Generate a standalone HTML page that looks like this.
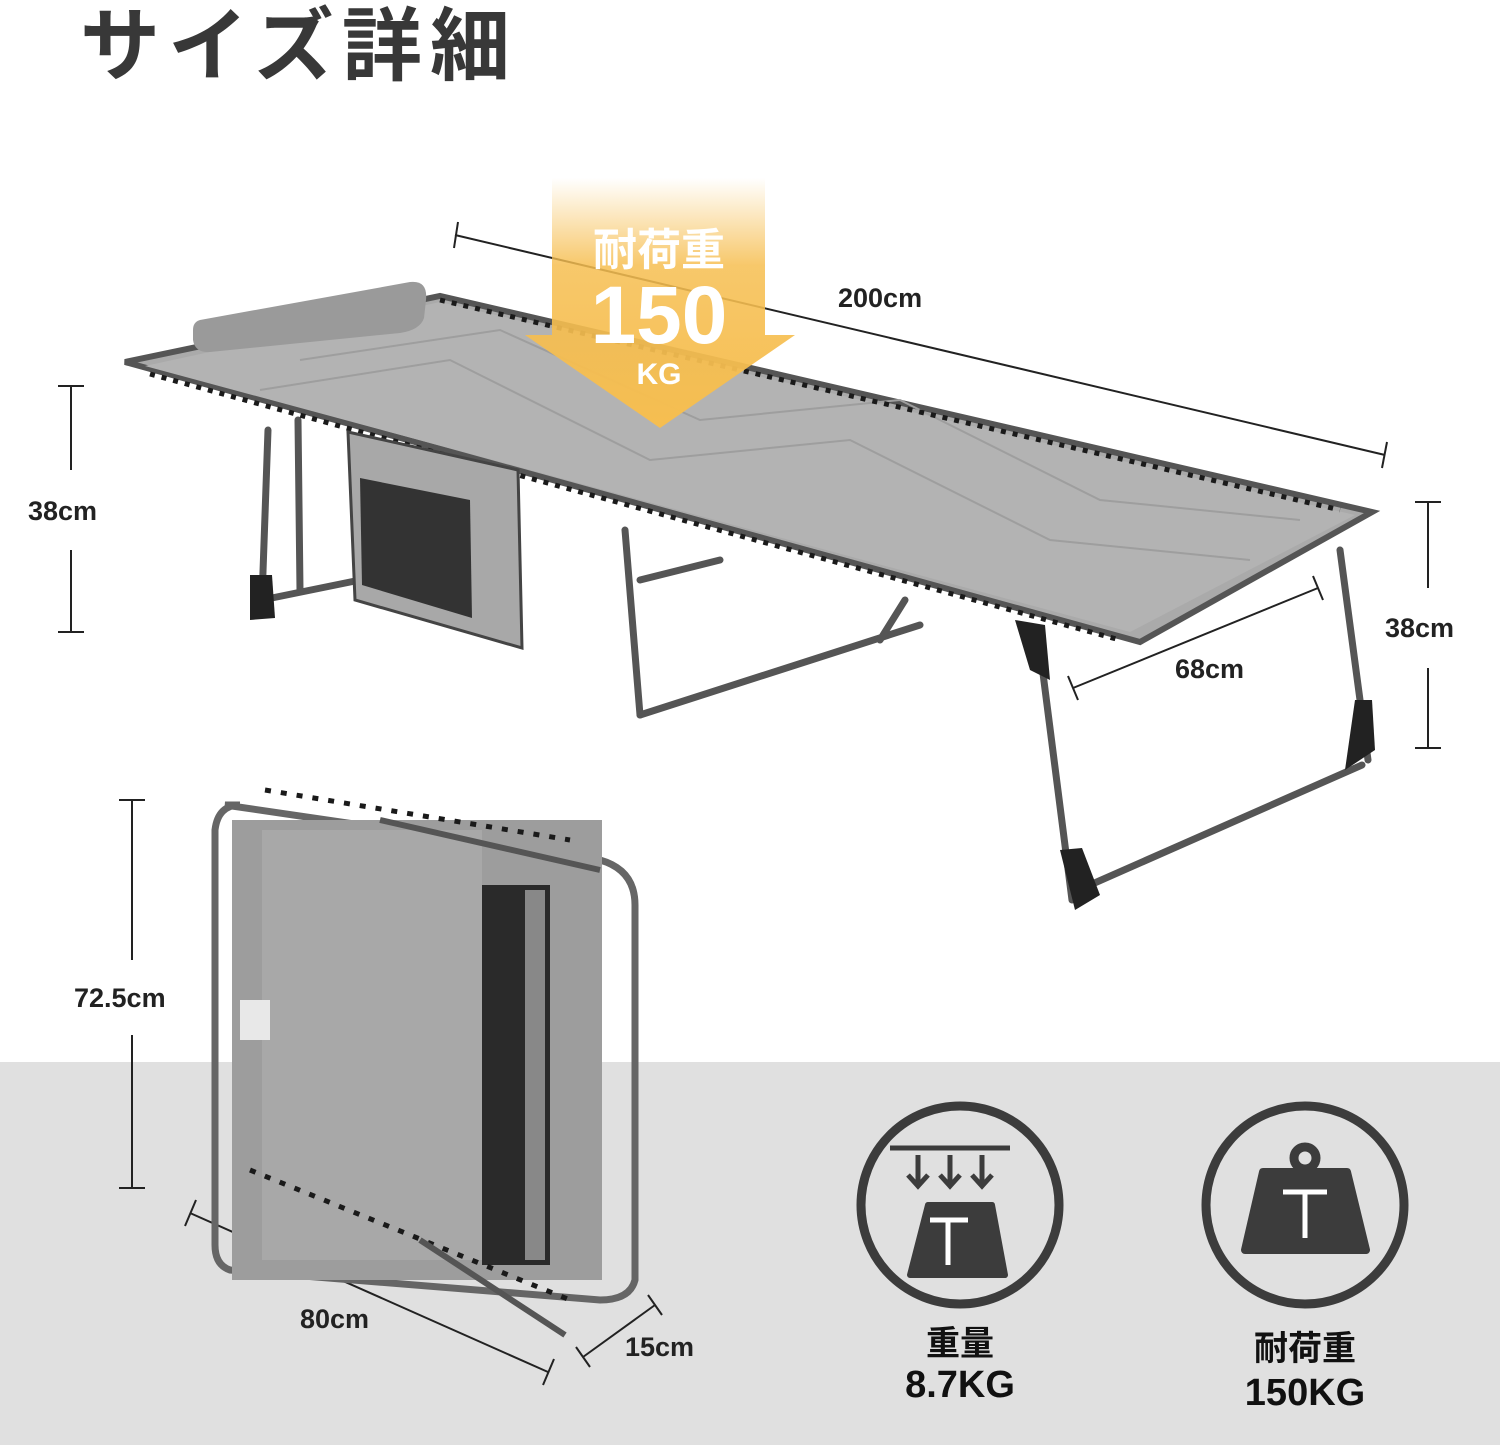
<!DOCTYPE html>
<html><head><meta charset="utf-8"><style>
html,body{margin:0;padding:0;background:#fff}
svg{display:block}
text{font-family:"Liberation Sans","Noto Sans CJK JP",sans-serif;font-weight:bold}
</style></head><body>
<svg width="1500" height="1445" viewBox="0 0 1500 1445" xmlns="http://www.w3.org/2000/svg">
<defs>
<linearGradient id="yg" x1="0" y1="0" x2="0" y2="1">
<stop offset="0" stop-color="#f6be50" stop-opacity="0"/>
<stop offset="0.35" stop-color="#f6be50" stop-opacity="0.85"/>
<stop offset="1" stop-color="#f6be50"/>
</linearGradient>
</defs>
<rect x="0" y="1062" width="1500" height="383" fill="#e0e0e0"/>
<text x="80" y="74" font-size="80" fill="#383838" textLength="430" lengthAdjust="spacing">サイズ詳細</text>

<!-- dimension lines -->
<g stroke="#222" stroke-width="2" fill="none">
<line x1="455" y1="235" x2="1385" y2="455"/>
<line x1="458" y1="222" x2="454" y2="248"/><line x1="1387" y1="442" x2="1382" y2="468"/>
<line x1="71" y1="386" x2="71" y2="470"/><line x1="71" y1="550" x2="71" y2="632"/>
<line x1="58" y1="386" x2="84" y2="386"/><line x1="58" y1="632" x2="84" y2="632"/>
<line x1="1428" y1="502" x2="1428" y2="588"/><line x1="1428" y1="668" x2="1428" y2="748"/>
<line x1="1415" y1="502" x2="1441" y2="502"/><line x1="1415" y1="748" x2="1441" y2="748"/>
<line x1="1073" y1="688" x2="1318" y2="588"/>
<line x1="1068" y1="676" x2="1078" y2="700"/><line x1="1313" y1="576" x2="1323" y2="600"/>
<line x1="132" y1="800" x2="132" y2="960"/><line x1="132" y1="1035" x2="132" y2="1188"/>
<line x1="119" y1="800" x2="145" y2="800"/><line x1="119" y1="1188" x2="145" y2="1188"/>
<line x1="190" y1="1213" x2="548" y2="1372"/>
<line x1="196" y1="1200" x2="185" y2="1226"/><line x1="554" y1="1359" x2="543" y2="1385"/>
<line x1="583" y1="1357" x2="655" y2="1305"/>
<line x1="576" y1="1347" x2="590" y2="1367"/><line x1="648" y1="1295" x2="662" y2="1315"/>
</g>
<g font-size="27" fill="#222">
<text x="838" y="307">200cm</text>
<text x="28" y="520">38cm</text>
<text x="1385" y="637">38cm</text>
<text x="1175" y="678">68cm</text>
<text x="74" y="1007">72.5cm</text>
<text x="300" y="1328">80cm</text>
<text x="625" y="1356">15cm</text>
</g>

<!-- cot legs -->
<g stroke="#555" stroke-width="7" fill="none" stroke-linecap="round">
<line x1="268" y1="430" x2="262" y2="600"/>
<line x1="298" y1="420" x2="300" y2="590"/>
<line x1="262" y1="600" x2="360" y2="580"/>
<line x1="625" y1="530" x2="640" y2="715"/>
<line x1="640" y1="715" x2="920" y2="625"/>
<line x1="640" y1="580" x2="720" y2="560"/>
<line x1="1040" y1="650" x2="1072" y2="900"/>
<line x1="1340" y1="550" x2="1368" y2="760"/>
<line x1="1090" y1="885" x2="1362" y2="765"/>
<line x1="880" y1="640" x2="905" y2="600"/>
</g>
<g fill="#222">
<polygon points="250,575 272,575 275,618 250,620"/>
<polygon points="1060,850 1082,848 1100,895 1075,910"/>
<polygon points="1355,700 1372,700 1375,750 1345,770"/>
<polygon points="1015,620 1045,625 1050,680 1030,670"/>
</g>
<!-- bed -->
<polygon points="125,362 440,296 1372,512 1140,642" fill="#aaa" stroke="#555" stroke-width="6"/>
<polygon points="145,366 440,302 1355,515 1130,632" fill="#b3b3b3"/>
<g stroke="#9e9e9e" stroke-width="2" fill="none">
<path d="M300,360 L500,330 L700,420 L900,400 L1100,500 L1300,520"/>
<path d="M260,390 L450,360 L650,460 L850,440 L1050,540 L1250,560"/>
</g>
<g stroke="#1a1a1a" stroke-width="5" stroke-dasharray="5 7">
<line x1="150" y1="374" x2="1120" y2="640"/>
<line x1="440" y1="300" x2="1340" y2="510"/>
</g>
<!-- pillow -->
<path d="M200,320 L410,282 Q428,280 426,300 L424,318 Q420,330 400,333 L210,352 Q195,353 193,340 L193,330 Q193,322 200,320 Z" fill="#9a9a9a"/>
<!-- pocket -->
<polygon points="348,432 518,470 522,648 355,600" fill="#a8a8a8" stroke="#444" stroke-width="3"/>
<polygon points="360,478 470,500 472,618 362,585" fill="#333"/>
<!-- yellow arrow -->
<polygon points="552,178 765,178 765,335 795,335 660,428 525,335 552,335" fill="url(#yg)"/>
<text x="659" y="265" font-size="44" fill="#fff" text-anchor="middle">耐荷重</text>
<text x="659" y="343" font-size="82" fill="#fff" text-anchor="middle">150</text>
<text x="659" y="384" font-size="30" fill="#fff" text-anchor="middle">KG</text>

<!-- folded cot -->
<g>
<path d="M225,805 L600,860 Q635,870 635,905 L635,1280 Q630,1300 600,1300 L230,1270 Q215,1265 215,1245 L215,830 Q218,805 240,805 Z" fill="none" stroke="#666" stroke-width="7"/>
<rect x="232" y="820" width="370" height="460" fill="#9d9d9d"/>
<rect x="262" y="830" width="220" height="430" fill="#a8a8a8"/>
<rect x="482" y="885" width="68" height="380" fill="#2a2a2a"/>
<rect x="525" y="890" width="20" height="370" fill="#888"/>
<g stroke="#1a1a1a" stroke-width="5" stroke-dasharray="6 10">
<line x1="265" y1="790" x2="570" y2="840"/>
<line x1="250" y1="1170" x2="570" y2="1300"/>
</g>
<g stroke="#555" stroke-width="6">
<line x1="380" y1="820" x2="600" y2="870"/>
<line x1="420" y1="1240" x2="565" y2="1335"/>
</g>
<rect x="240" y="1000" width="30" height="40" fill="#e8e8e8"/>
</g>

<!-- icons -->
<g fill="none" stroke="#3c3c3c" stroke-width="9">
<circle cx="960" cy="1205" r="99"/>
<circle cx="1305" cy="1205" r="99"/>
<circle cx="1305" cy="1158" r="11"/>
</g>
<g stroke="#3c3c3c" stroke-width="5" fill="none">
<line x1="890" y1="1148" x2="1010" y2="1148"/>
<line x1="918" y1="1155" x2="918" y2="1185"/><polyline points="908,1175 918,1186 928,1175"/>
<line x1="950" y1="1155" x2="950" y2="1185"/><polyline points="940,1175 950,1186 960,1175"/>
<line x1="982" y1="1155" x2="982" y2="1185"/><polyline points="972,1175 982,1186 992,1175"/>
</g>
<path d="M928,1205 L992,1205 L1005,1275 L910,1275 Z" fill="#3c3c3c" stroke="#3c3c3c" stroke-width="6" stroke-linejoin="round"/>
<g stroke="#fff" stroke-width="5"><line x1="930" y1="1220" x2="968" y2="1220"/><line x1="948" y1="1220" x2="948" y2="1265"/></g>
<path d="M1263,1172 L1347,1172 L1366,1250 L1245,1250 Z" fill="#3c3c3c" stroke="#3c3c3c" stroke-width="8" stroke-linejoin="round"/>
<g stroke="#fff" stroke-width="5"><line x1="1283" y1="1192" x2="1327" y2="1192"/><line x1="1305" y1="1192" x2="1305" y2="1238"/></g>
<g font-size="34" fill="#111" text-anchor="middle">
<text x="960" y="1355">重量</text>
<text x="960" y="1397" font-size="38">8.7KG</text>
<text x="1305" y="1360">耐荷重</text>
<text x="1305" y="1405" font-size="38">150KG</text>
</g>
</svg>
</body></html>
